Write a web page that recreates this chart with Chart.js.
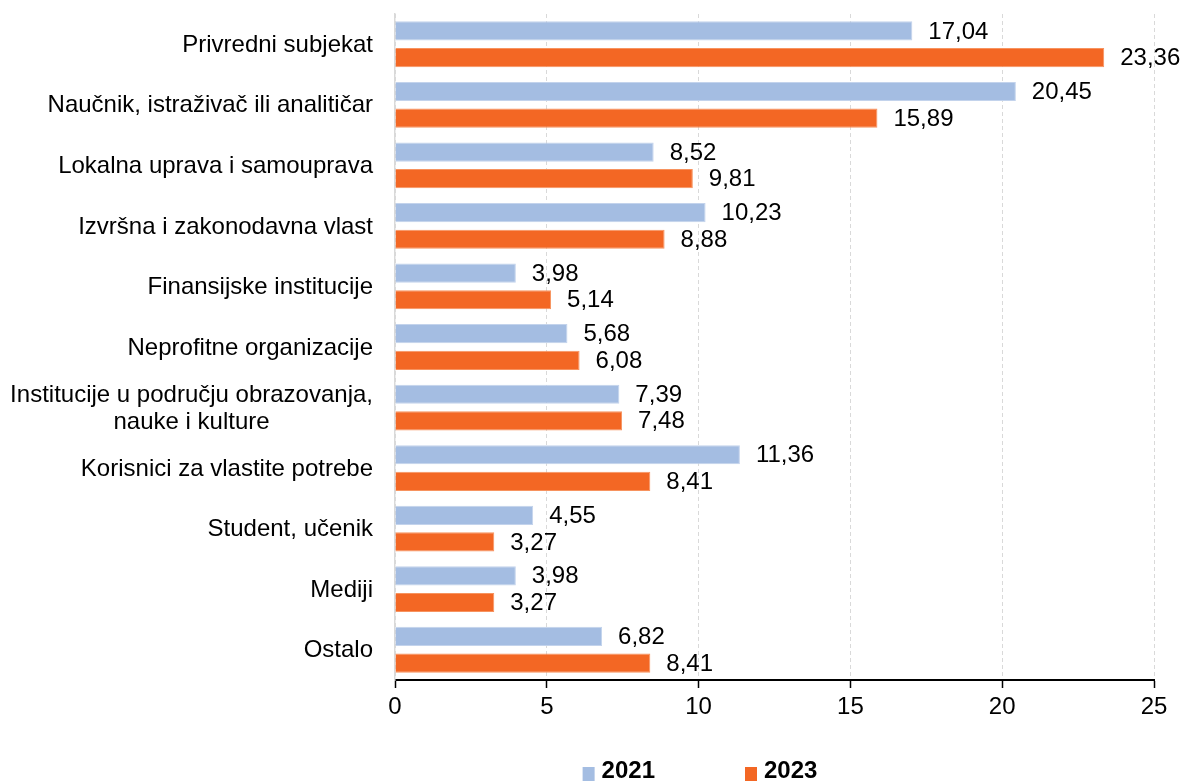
<!DOCTYPE html>
<html>
<head>
<meta charset="utf-8">
<script src="https://cdn.jsdelivr.net/npm/chart.js@4"></script>
<style>
  body { margin: 0; background: #fff; overflow: hidden; }
</style>
</head>
<body>
<canvas id="korisniciChart" width="1183" height="782"></canvas>
<script>
// Data
const categories = [
    'Privredni subjekat',
    'Naučnik, istraživač ili analitičar',
    'Lokalna uprava i samouprava',
    'Izvršna i zakonodavna vlast',
    'Finansijske institucije',
    'Neprofitne organizacije',
    ['Institucije u području obrazovanja,', 'nauke i kulture'],
    'Korisnici za vlastite potrebe',
    'Student, učenik',
    'Mediji',
    'Ostalo'
];
const values2021 = [17.04, 20.45, 8.52, 10.23, 3.98, 5.68, 7.39, 11.36, 4.55, 3.98, 6.82];
const values2023 = [23.36, 15.89, 9.81, 8.88, 5.14, 6.08, 7.48, 8.41, 3.27, 3.27, 8.41];
const seriesLabels = ['2021', '2023'];
const xTicks = { min: 0, max: 25, step: 5 };

const FONT = "'Liberation Sans', Arial, sans-serif";
const FONT_SIZE = 24;
Chart.defaults.font.family = FONT;
Chart.defaults.font.size = FONT_SIZE;
Chart.defaults.color = '#000';

const fmt = v => v.toFixed(2).replace('.', ',');

// value labels to the right of every bar
const valueLabels = {
    id: 'valueLabels',
    afterDatasetsDraw(chart) {
        const ctx = chart.ctx;
        ctx.save();
        ctx.font = FONT_SIZE + 'px ' + FONT;
        ctx.fillStyle = '#000';
        ctx.textAlign = 'left';
        ctx.textBaseline = 'middle';
        chart.data.datasets.forEach((ds, di) => {
            chart.getDatasetMeta(di).data.forEach((bar, i) => {
                ctx.fillText(fmt(ds.data[i]), bar.x + 16, bar.y + 1);
            });
        });
        ctx.restore();
    }
};

// category labels: right aligned, extra lines centred under the widest one
const categoryLabels = {
    id: 'categoryLabels',
    afterDraw(chart) {
        const scale = chart.scales.y;
        const ctx = chart.ctx;
        const lineH = 27;
        ctx.save();
        ctx.font = FONT_SIZE + 'px ' + FONT;
        ctx.fillStyle = '#000';
        ctx.textAlign = 'center';
        ctx.textBaseline = 'middle';
        const right = scale.right - 22;
        scale.getLabels().forEach((label, i) => {
            const lines = Array.isArray(label) ? label : [label];
            const w = Math.max(...lines.map(l => ctx.measureText(l).width));
            const y0 = scale.getPixelForTick(i) - (lines.length - 1) * lineH / 2;
            lines.forEach((l, k) => ctx.fillText(l, right - w / 2, y0 + k * lineH + 1));
        });
        ctx.restore();
    }
};

// legend under the axis
const bottomLegend = {
    id: 'bottomLegend',
    afterDraw(chart) {
        const ctx = chart.ctx;
        const box = 12, gap = 7, itemGap = 90;
        const cx = 700, cy = chart.chartArea.bottom + 91;
        ctx.save();
        ctx.font = 'bold ' + FONT_SIZE + 'px ' + FONT;
        ctx.textBaseline = 'middle';
        ctx.textAlign = 'left';
        const items = chart.data.datasets.map(ds => ({
            text: ds.label, color: ds.backgroundColor, w: box + gap + ctx.measureText(ds.label).width
        }));
        const total = items.reduce((a, it) => a + it.w, 0) + itemGap * (items.length - 1);
        let x = cx - total / 2;
        items.forEach(it => {
            ctx.fillStyle = it.color;
            ctx.fillRect(x, cy - box / 2 + 2, box, box + 2);
            ctx.fillStyle = '#000';
            ctx.fillText(it.text, x + box + gap, cy);
            x += it.w + itemGap;
        });
        ctx.restore();
    }
};

const ctx = document.getElementById('korisniciChart').getContext('2d');
const korisniciChart = new Chart(ctx, {
    type: 'bar',
    data: {
        labels: categories,
        datasets: [
            {
                label: seriesLabels[0],
                data: values2021,
                backgroundColor: '#a4bde2',
                borderColor: '#c3d3ec',
                borderWidth: 1
            },
            {
                label: seriesLabels[1],
                data: values2023,
                backgroundColor: '#f36724',
                borderColor: '#f7935f',
                borderWidth: 1
            }
        ]
    },
    options: {
        indexAxis: 'y',
        responsive: false,
        animation: false,
        categoryPercentage: 0.88,
        barPercentage: 0.72,
        layout: { padding: { top: 14, right: 29, left: 0, bottom: 0 } },
        plugins: {
            legend: { display: false },
            tooltip: { enabled: false }
        },
        scales: {
            x: {
                min: xTicks.min,
                max: xTicks.max,
                ticks: { stepSize: xTicks.step, padding: 5, color: '#000' },
                grid: {
                    color: '#d9d9d9',
                    drawTicks: true,
                    tickLength: 8,
                    tickColor: '#000',
                    tickWidth: 1.5
                },
                border: { color: '#000', width: 2, dash: [4, 3] },
                afterFit(scale) { scale.height = 102; }
            },
            y: {
                ticks: { display: false },
                grid: { display: false, drawTicks: false },
                border: { color: '#d9d9d9', width: 1.5 },
                afterFit(scale) { scale.width = 395; }
            }
        }
    },
    plugins: [valueLabels, categoryLabels, bottomLegend]
});
</script>
</body>
</html>
